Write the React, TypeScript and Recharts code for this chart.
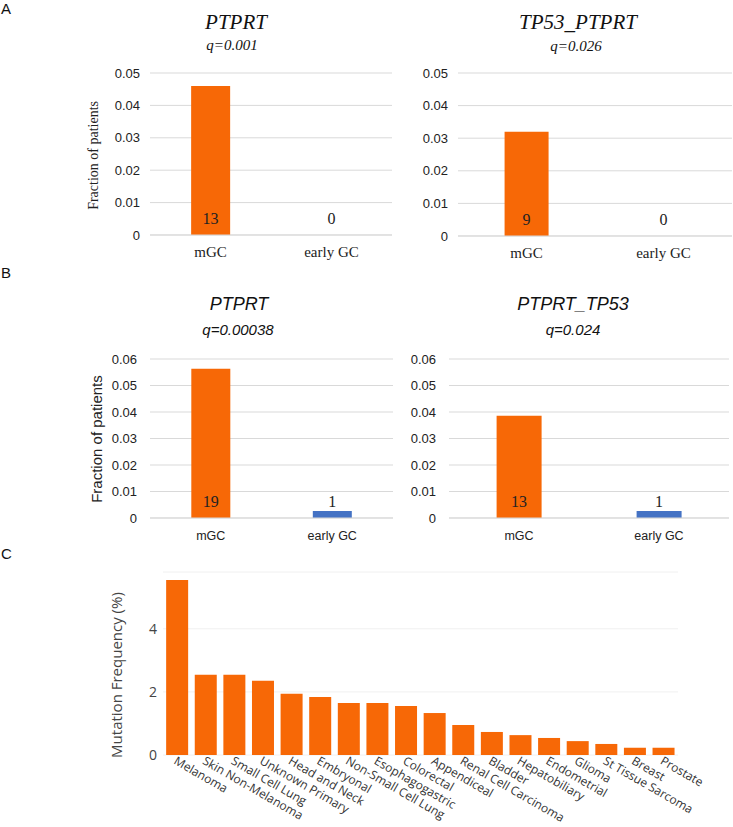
import { BarChart, Bar, XAxis, YAxis, CartesianGrid, Cell } from 'recharts'

// Grupos e frações (painéis A e B)
const grupos = ['mGC', 'early GC']
const coresGrupo = ['#F76806', '#4472C4']

const fracaoA1 = [0.046, 0]
const pacientesA1 = [13, 0]
const fracaoA2 = [0.032, 0]
const pacientesA2 = [9, 0]

const fracaoB1 = [0.0563, 0.0026]
const pacientesB1 = [19, 1]
const fracaoB2 = [0.0386, 0.0026]
const pacientesB2 = [13, 1]

const ticksA = [0, 0.01, 0.02, 0.03, 0.04, 0.05]
const ticksB = [0, 0.01, 0.02, 0.03, 0.04, 0.05, 0.06]

// Painel C
const tiposCancer = [
  'Melanoma', 'Skin  Non-Melanoma', 'Small Cell Lung', 'Unknown Primary', 'Head and Neck',
  'Embryonal', 'Non-Small Cell Lung', 'Esophagogastric', 'Colorectal', 'Appendiceal',
  'Renal Cell Carcinoma', 'Bladder', 'Hepatobiliary', 'Endometrial', 'Glioma',
  'St Tissue Sarcoma', 'Breast', 'Prostate',
]
const frequencia = [5.55, 2.54, 2.54, 2.35, 1.94, 1.84, 1.65, 1.65, 1.55, 1.33, 0.95, 0.73, 0.63, 0.54, 0.44, 0.35, 0.23, 0.23]
const ticksC = [0, 2, 4]

const montar = (fracoes: number[]) => grupos.map((g, i) => ({ grupo: g, fracao: fracoes[i] }))

const dadosC = tiposCancer.map((t, i) => ({ tipo: t, freq: frequencia[i] }))

const SERIF = '"Liberation Serif", "DejaVu Serif", serif'
const SANS = '"Liberation Sans", Arial, sans-serif'
const OPEN = '"Open Sans", "Noto Sans", sans-serif'

// rótulo do grupo + número de pacientes logo acima do eixo
const tickGrupo = (pacientes: number[], sans: boolean) => (props: any) => {
  const { x, y, payload } = props
  return (
    <g>
      <text x={x} y={y + 22} textAnchor="middle" fill="#222"
        fontFamily={sans ? SANS : SERIF} fontSize={sans ? 12.5 : 15}>
        {payload.value}
      </text>
      <text x={x} y={y - 11.5} textAnchor="middle" fill="#222" fontFamily={SERIF} fontSize={16}>
        {pacientes[payload.index]}
      </text>
    </g>
  )
}

function Texto({ x, y, children, size, family, italic, rotate, color }: any) {
  return (
    <div
      style={{
        position: 'absolute', left: x - 150, top: y - size * 0.6, width: 300, textAlign: 'center',
        fontSize: size, fontFamily: family, fontStyle: italic ? 'italic' : 'normal', lineHeight: `${size * 1.2}px`,
        color: color || '#111', transform: rotate ? 'rotate(-90deg)' : undefined, whiteSpace: 'nowrap',
      }}
    >
      {children}
    </div>
  )
}

function Grafico({ left, top, width, height, fracoes, pacientes, ticks, dominio, margem, yWidth, xHeight, sans }: any) {
  const dados = montar(fracoes)
  return (
    <div style={{ position: 'absolute', left, top }}>
      <BarChart width={width} height={height} data={dados} margin={margem} barCategoryGap="34%">
        <CartesianGrid vertical={false} stroke="#D9D9D9" />
        <XAxis
          dataKey="grupo"
          height={xHeight}
          axisLine={{ stroke: '#D9D9D9' }}
          tickLine={false}
          tickSize={0}
          tickMargin={0}
          tick={tickGrupo(pacientes, !!sans)}
        />
        <YAxis
          width={yWidth}
          domain={dominio}
          ticks={ticks}
          interval={0}
          axisLine={false}
          tickLine={false}
          tickMargin={sans ? 7 : 4}
          tick={{ fontSize: 13, fill: '#222', fontFamily: SANS }}
          tickFormatter={(v: number) => (v === 0 ? '0' : String(v))}
        />
        <Bar dataKey="fracao" isAnimationActive={false}>
          {dados.map((_: any, i: number) => (
            <Cell key={i} fill={coresGrupo[i]} />
          ))}
        </Bar>
      </BarChart>
    </div>
  )
}

export default function App() {
  return (
    <div style={{ position: 'absolute', left: 0, top: 0, width: 733, height: 827, background: '#fff', overflow: 'hidden' }}>
      {/* Letras dos painéis */}
      <div style={{ position: 'absolute', left: 1, top: 0, fontFamily: SANS, fontSize: 15, color: '#111' }}>A</div>
      <div style={{ position: 'absolute', left: 1, top: 264, fontFamily: SANS, fontSize: 15, color: '#111' }}>B</div>
      <div style={{ position: 'absolute', left: 1, top: 545, fontFamily: SANS, fontSize: 15, color: '#111' }}>C</div>

      {/* Painel A */}
      <Texto x={236} y={23} size={21} family={SERIF} italic>PTPRT</Texto>
      <Texto x={232} y={45} size={15} family={SERIF} italic>q=0.001</Texto>
      <Texto x={578} y={23} size={21} family={SERIF} italic>TP53_PTPRT</Texto>
      <Texto x={576} y={46} size={15} family={SERIF} italic>q=0.026</Texto>
      <Texto x={94} y={155} size={14} family={SERIF} rotate color="#222">Fraction of patients</Texto>

      <Grafico left={0} top={0} width={400} height={270} fracoes={fracaoA1} pacientes={pacientesA1} ticks={ticksA} dominio={[0, 0.05]}
        margem={{ top: 73, right: 8, left: 90, bottom: 0 }} yWidth={60} xHeight={35} />
      <Grafico left={400} top={0} width={333} height={270} fracoes={fracaoA2} pacientes={pacientesA2} ticks={ticksA} dominio={[0, 0.05]}
        margem={{ top: 73, right: 1, left: 8, bottom: 0 }} yWidth={50} xHeight={34} />

      {/* Painel B */}
      <Texto x={239} y={305} size={18} family={SANS} italic>PTPRT</Texto>
      <Texto x={238} y={330} size={15} family={SANS} italic>q=0.00038</Texto>
      <Texto x={573} y={305} size={18} family={SANS} italic>PTPRT_TP53</Texto>
      <Texto x={573} y={330} size={15} family={SANS} italic>q=0.024</Texto>
      <Texto x={97} y={439} size={15} family={SANS} rotate color="#222">Fraction of patients</Texto>

      <Grafico left={0} top={280} width={400} height={270} fracoes={fracaoB1} pacientes={pacientesB1} ticks={ticksB} dominio={[0, 0.06]}
        margem={{ top: 79, right: 7, left: 90, bottom: 0 }} yWidth={60} xHeight={32} sans />
      <Grafico left={400} top={280} width={333} height={270} fracoes={fracaoB2} pacientes={pacientesB2} ticks={ticksB} dominio={[0, 0.06]}
        margem={{ top: 79, right: 4, left: 0, bottom: 0 }} yWidth={49} xHeight={32} sans />

      {/* Painel C */}
      <Texto x={116} y={675} size={15} family={OPEN} rotate color="#444">Mutation Frequency (%)</Texto>
      <div style={{ position: 'absolute', left: 0, top: 555 }}>
        <BarChart width={733} height={272} data={dadosC} margin={{ top: 17, right: 55, left: 123, bottom: 0 }} barCategoryGap="11%">
          <CartesianGrid vertical={false} stroke="#F0F0F0" />
          <XAxis
            dataKey="tipo"
            height={72}
            interval={0}
            axisLine={false}
            tickLine={false}
            tickSize={0}
            tickMargin={1}
            tick={{ angle: 30, textAnchor: 'start', fontSize: 12, fill: '#333', fontFamily: OPEN }}
          />
          <YAxis
            width={40}
            domain={[0, 5.8]}
            ticks={ticksC}
            interval={0}
            axisLine={false}
            tickLine={false}
            tickSize={0}
            tickMargin={6}
            tick={{ fontSize: 14, fill: '#444', fontFamily: OPEN }}
          />
          <Bar dataKey="freq" fill="#F76806" isAnimationActive={false} />
        </BarChart>
      </div>
    </div>
  )
}
